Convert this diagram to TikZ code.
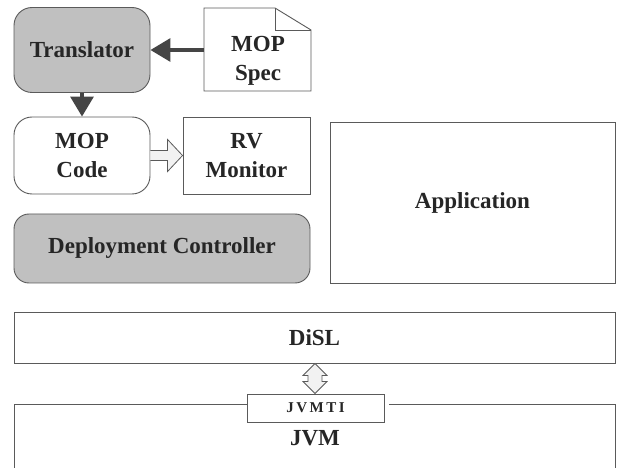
\documentclass[tikz,border=0pt]{standalone}
\usepackage{fontspec}
\setmainfont{Liberation Serif}
\usetikzlibrary{arrows.meta,calc}
\definecolor{edge}{HTML}{5A5A5A}
\definecolor{boxgray}{HTML}{C0C0C0}
\definecolor{arrowdark}{HTML}{454545}
\definecolor{hollow}{HTML}{F2F2F2}
\tikzset{
  lbl/.style={font=\fontsize{23}{29}\selectfont\bfseries, text=black!85, align=center, inner sep=0pt},
  plainbox/.style={draw=edge, line width=0.9pt, fill=white, lbl},
  roundgray/.style={plainbox, fill=boxgray, rounded corners=18pt},
  roundwhite/.style={plainbox, rounded corners=18pt},
  darkarrow/.style={draw=arrowdark, line width=3.2pt, -{Triangle[width=23pt,length=20pt]}},
  blockarrow/.style={draw=edge, line width=0.8pt, fill=hollow, line join=miter},
}
\begin{document}
\begin{tikzpicture}[x=1pt,y=-1pt]
\useasboundingbox (0,0) rectangle (625,468);

% upper left tool chain
\node[roundgray, minimum width=136pt, minimum height=85pt] (trans) at (82,50) {Translator};
\node[roundwhite, minimum width=136pt, minimum height=77pt] (code) at (82,155.5) {MOP\\Code};
\node[plainbox, minimum width=127pt, minimum height=77pt] (rv) at (246.5,155.5) {RV\\Monitor};
\node[roundgray, rounded corners=15pt, minimum width=296pt, minimum height=69pt] (deploy) at (162,248.5) {Deployment Controller};
\node[plainbox, minimum width=285pt, minimum height=161pt] (app) at (472.5,202.5) {Application};

% specification document with folded corner
\coordinate (sTL) at (204,8);
\coordinate (sF) at (275,8);
\coordinate (sFR) at (311,30);
\coordinate (sBR) at (311,91);
\coordinate (sBL) at (204,91);
\filldraw[draw=edge, line width=0.9pt, fill=white, line join=miter]
  (sTL) -- (sF) -- (sFR) -- (sBR) -- (sBL) -- cycle;
\draw[edge, line width=0.9pt] (sF) -- (sF |- sFR) -- (sFR);
\node[lbl] (spec) at (258,61) {MOP\\Spec};

% translation arrows
\draw[darkarrow] (sTL |- trans.east) -- (trans.east);
\draw[darkarrow] (trans.south) -- (code.north);

% hollow arrow from generated code to monitor
\coordinate (ha) at (code.east);
\coordinate (hb) at (rv.west);
\filldraw[blockarrow]
  ($(ha)+(0,-5)$) -- ($(hb)+(-15,-5)$) -- ($(hb)+(-15,-16)$) -- (hb)
  -- ($(hb)+(-15,16)$) -- ($(hb)+(-15,5)$) -- ($(ha)+(0,5)$);

% instrumentation layers
\node[plainbox, minimum width=601pt, minimum height=51pt] (disl) at (314.5,337.5) {DiSL};
\coordinate (jvmTL) at (14,404);
\coordinate (jvmTR) at (615,404);
\node[draw=edge, line width=0.9pt, fill=white, minimum width=137pt, minimum height=28pt, inner sep=0pt,
      font=\fontsize{15}{17}\selectfont\bfseries, text=black!85] (jvmti) at (315.5,408) {J\,V\,M\,T\,I};
\draw[edge, line width=0.9pt] (jvmti.west |- jvmTL) -- (jvmTL) -- (14,470);
\draw[edge, line width=0.9pt] ($(jvmti.east |- jvmTR)+(5,0)$) -- (jvmTR) -- (615,470);
\node[lbl] (jvm) at (315,438) {JVM};

% double block arrow between DiSL and JVMTI
\coordinate (da) at (315,363.5);
\coordinate (db) at (jvmti.north -| da);
\filldraw[blockarrow]
  (da) -- ($(da)+(12,12)$) -- ($(da)+(7,12)$) -- ($(db)+(7,-12)$) -- ($(db)+(12,-12)$) -- (db)
  -- ($(db)+(-12,-12)$) -- ($(db)+(-7,-12)$) -- ($(da)+(-7,12)$) -- ($(da)+(-12,12)$) -- cycle;
\end{tikzpicture}
\end{document}
